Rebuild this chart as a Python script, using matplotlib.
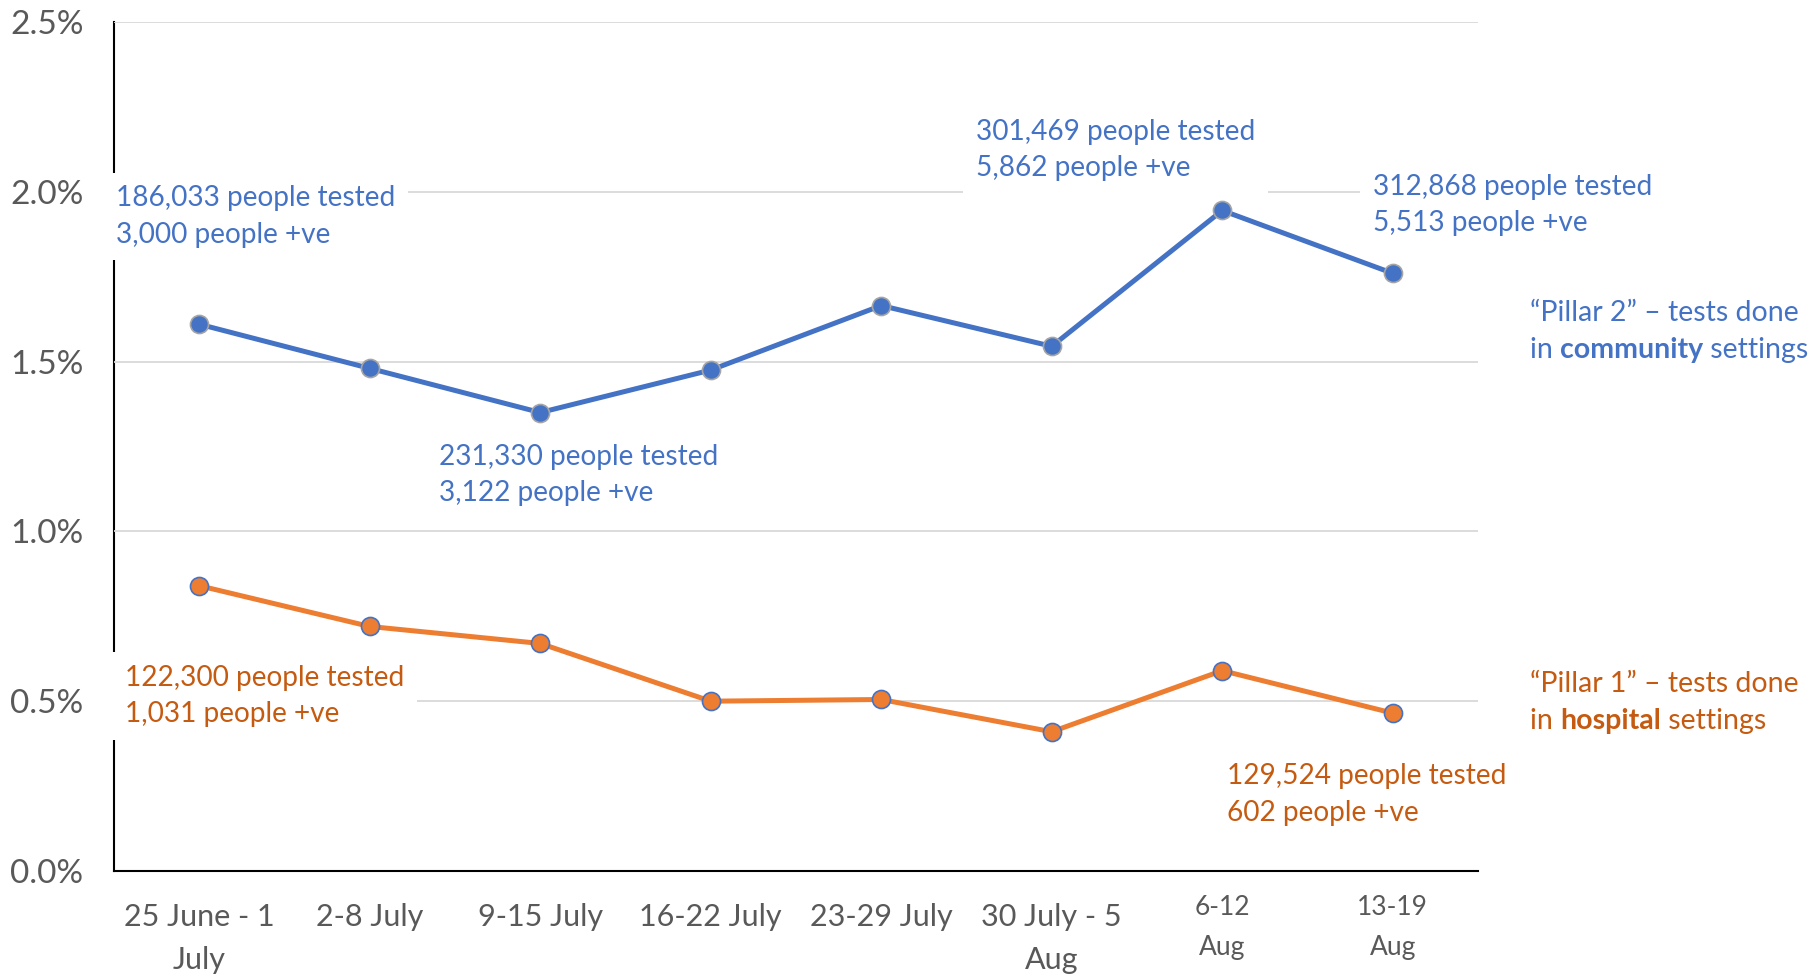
import matplotlib
matplotlib.use("Agg")
import matplotlib.pyplot as plt
from matplotlib.transforms import ScaledTranslation

# weekly positivity rates (% of people tested who were positive)
weeks = ["25 June - 1\nJuly", "2-8 July", "9-15 July", "16-22 July", "23-29 July",
         "30 July - 5\nAug", "6-12\nAug", "13-19\nAug"]
pillar2 = [1.61, 1.48, 1.35, 1.475, 1.665, 1.545, 1.945, 1.76]
pillar1 = [0.84, 0.72, 0.67, 0.50, 0.505, 0.41, 0.59, 0.465]
yticks = [0.0, 0.5, 1.0, 1.5, 2.0, 2.5]

blue = "#4472C4"
orange = "#ED7D31"
orange_txt = "#C55A11"
grey = "#595959"

plt.rcParams["font.family"] = ["Lato", "DejaVu Sans"]

fig = plt.figure(figsize=(18.13, 9.77), dpi=100)
ax = fig.add_axes([0.0629, 0.1085, 0.7523, 0.869])

x = list(range(len(weeks)))
ax.plot(x, pillar2, color=blue, lw=3.6, marker="o", ms=13,
        mfc=blue, mec="#A5A5A5", mew=1.2, zorder=3)
ax.plot(x, pillar1, color=orange, lw=3.6, marker="o", ms=13,
        mfc=orange, mec=blue, mew=1.2, zorder=3)

ax.set_xlim(-0.5, 7.5)
ax.set_ylim(0, 2.5)
ax.set_yticks(yticks)
ax.set_yticklabels(["{:.1f}%".format(v) for v in yticks], fontsize=24, color=grey)
ax.set_xticks(x)
ax.set_xticklabels(weeks, fontsize=22, color=grey, linespacing=1.64)
ax.tick_params(axis="y", length=0, pad=22)
ax.tick_params(axis="x", length=0, pad=23)
# the two last week labels are smaller and sit a bit higher
shift = ScaledTranslation(0, 0.08, fig.dpi_scale_trans)
for lab in ax.get_xticklabels()[6:]:
    lab.set_fontsize(19)
    lab.set_linespacing(1.73)
    lab.set_transform(lab.get_transform() + shift)

ax.grid(axis="y", color="#D9D9D9", lw=1.3, zorder=0)
for s in ["top", "right"]:
    ax.spines[s].set_visible(False)
ax.spines["left"].set_color("black")
ax.spines["bottom"].set_color("black")
ax.spines["left"].set_linewidth(1.5)
ax.spines["bottom"].set_linewidth(1.5)
ax.spines["left"].set_zorder(1)

box = dict(boxstyle="square,pad=0.45", fc="white", ec="none")


def note(xp, yp, txt, col):
    ax.text(xp, yp, txt, color=col, fontsize=20.2, va="center", ha="left",
            linespacing=1.49, bbox=box, zorder=2)


note(-0.49, 1.927, "186,033 people tested\n3,000 people +ve", blue)
note(1.406, 1.166, "231,330 people tested\n3,122 people +ve", blue)
note(4.556, 2.123, "301,469 people tested\n5,862 people +ve", blue)
note(6.884, 1.962, "312,868 people tested\n5,513 people +ve", blue)
note(-0.435, 0.515, "122,300 people tested\n1,031 people +ve", orange_txt)
note(6.028, 0.225, "129,524 people tested\n602 people +ve", orange_txt)


def pillar(yp1, yp2, first, bold, col):
    ax.text(7.805, yp1, first, color=col, fontsize=20.5, va="center",
            ha="left", clip_on=False)
    t = ax.text(7.805, yp2, "in ", color=col, fontsize=20.5, va="center",
                ha="left", clip_on=False)
    t = ax.annotate(bold, xy=(1, 0), xycoords=t, va="bottom", ha="left",
                    color=col, fontsize=20.5, fontweight="bold")
    ax.annotate(" settings", xy=(1, 0), xycoords=t, va="bottom", ha="left",
                color=col, fontsize=20.5)


pillar(1.643, 1.534, "\u201cPillar 2\u201d \u2013 tests done", "community", blue)
pillar(0.551, 0.442, "\u201cPillar 1\u201d \u2013 tests done", "hospital", orange_txt)

fig.savefig("out.png", dpi=100)
